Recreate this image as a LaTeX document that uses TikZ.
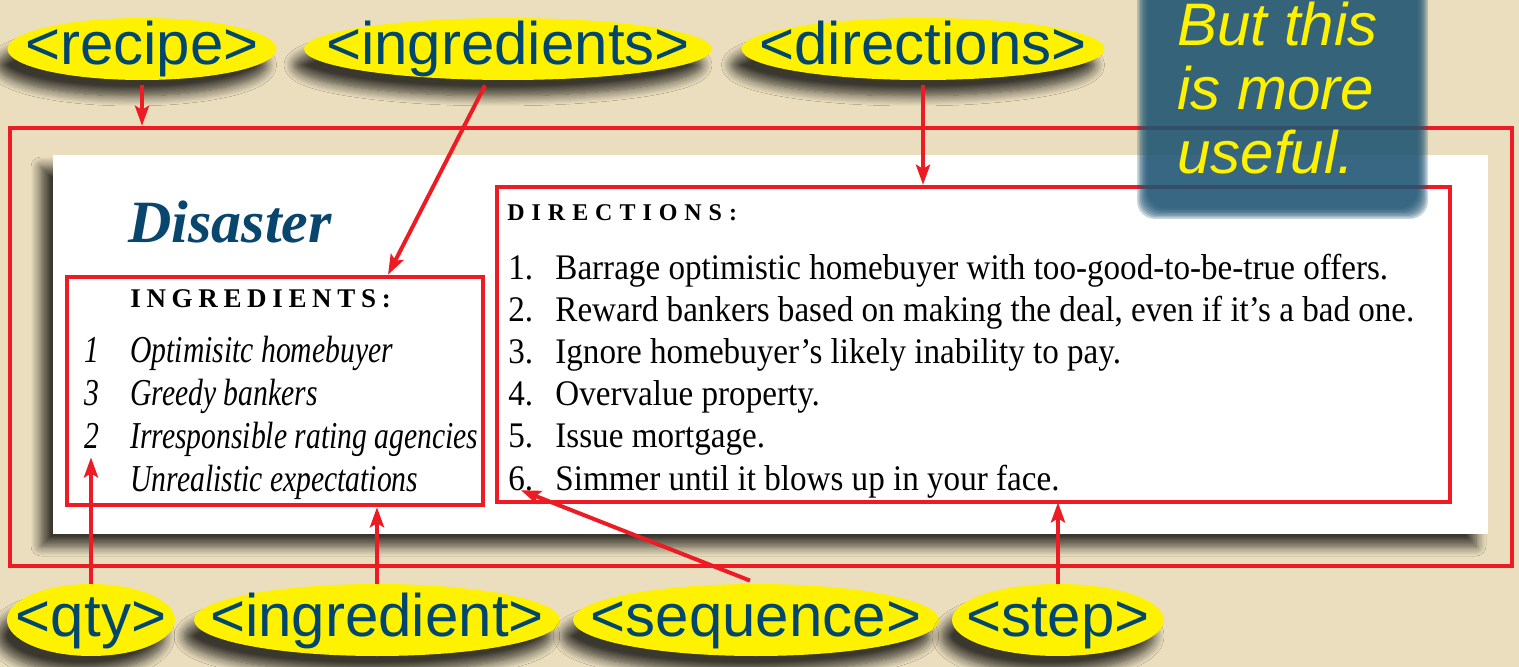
\documentclass[tikz,border=0pt]{standalone}
\usepackage{fontspec}
\setmainfont{Liberation Serif}
\newfontfamily\tagfont{Liberation Sans}
\newfontfamily\cardfont{Liberation Serif}[FakeStretch=0.92]
\newfontfamily\carditfont{Liberation Serif}[FakeStretch=0.78]
\newfontfamily\ingheadfont{Liberation Serif}[LetterSpace=21]
\newfontfamily\dirheadfont{Liberation Serif}[LetterSpace=29]
\usetikzlibrary{positioning,fit,calc,shapes.geometric,arrows.meta,shadows.blur}

\definecolor{bgbeige}{RGB}{234,222,190}
\definecolor{tagyellow}{RGB}{255,242,0}
\definecolor{tagblue}{RGB}{0,70,110}
\definecolor{recipered}{RGB}{237,28,36}
\definecolor{titleblue}{RGB}{8,70,110}
\definecolor{noteblue}{RGB}{32,86,116}
\definecolor{noteyellow}{RGB}{255,242,0}

% tag words take no room, so the ellipse keeps its own size
\newcommand\tagword[1]{\makebox[0pt]{\raisebox{-8pt}[0pt][0pt]{#1}}}

\tikzset{
  tag/.style={ellipse, fill=tagyellow, inner sep=0pt, minimum height=31pt,
    font=\tagfont\fontsize{30}{32}\selectfont, text=tagblue,
    blur shadow={shadow xshift=-5pt, shadow yshift=-8pt, shadow opacity=75,
      shadow blur radius=5pt, shadow blur steps=10}},
  lowtag/.style={tag, minimum height=36pt},
  redbox/.style={draw=recipered, line width=2.2pt, inner sep=0pt},
  arr/.style={draw=recipered, line width=2pt, -{Stealth[length=10pt,width=7pt,inset=2pt]}},
  steptext/.style={font=\cardfont\fontsize{18}{20}\selectfont, anchor=base west, inner sep=0pt},
  itemtext/.style={font=\carditfont\itshape\fontsize{19}{21}\selectfont, anchor=base west, inner sep=0pt},
  headtext/.style={anchor=base west, inner sep=0pt}
}

\begin{document}
\begin{tikzpicture}[x=0.5pt,y=-0.5pt]
    \useasboundingbox (0,0) rectangle (1519,667);
    \fill[bgbeige] (0,0) rectangle (1519,667);

    % the recipe card
    \node[fit={(53,155) (1488,534)}, inner sep=0pt, fill=white,
      blur shadow={shadow xshift=-6pt, shadow yshift=-6pt, shadow opacity=75,
        shadow blur radius=5pt, shadow blur steps=10}] (card) {};
    \node[redbox, fit={(10,128) (1512,566)}] (recipeBox) {};
    \node[redbox, fit={(67,277) (483,505)}] (ingBox) {};
    \node[redbox, fit={(497,187) (1450,502)}] (dirBox) {};

    \node[font=\bfseries\itshape\fontsize{30}{32}\selectfont, text=titleblue,
      anchor=base west, inner sep=0pt] (title) at (128,243) {Disaster};
    \node[headtext, font=\ingheadfont\bfseries\fontsize{13.5}{15}\selectfont] (ingHead) at (130,308) {INGREDIENTS:};
    \foreach \q/\t [count=\i] in {1/Optimisitc homebuyer, 3/Greedy bankers,
        2/Irresponsible rating agencies, /Unrealistic expectations} {
      \node[itemtext] (qty\i) at (84,320+43*\i) {\q};
      \node[itemtext] (ing\i) at (130,320+43*\i) {\t};
    }
    \node[headtext, font=\dirheadfont\bfseries\fontsize{12}{14}\selectfont] (dirHead) at (507,221) {DIRECTIONS:};
    \foreach \t [count=\i] in {Barrage optimistic homebuyer with too-good-to-be-true offers.,
        {Reward bankers based on making the deal, even if it’s a bad one.},
        Ignore homebuyer’s likely inability to pay., Overvalue property.,
        Issue mortgage., Simmer until it blows up in your face.} {
      \node[steptext] (num\i) at (508,237+42.2*\i) {\i.};
      \node[steptext] (step\i) at (555,237+42.2*\i) {\t};
    }

    % element tags
    \node[tag, minimum width=134.5pt] (recipeTag) at (142,49) {\tagword{<recipe>}};
    \node[tag, minimum width=204pt] (ingredientsTag) at (508,49) {\tagword{<ingredients>}};
    \node[tag, minimum width=181.5pt] (directionsTag) at (923,49) {\tagword{<directions>}};
    \node[lowtag, minimum width=84pt] (qtyTag) at (91,620) {\tagword{<qty>}};
    \node[lowtag, minimum width=183pt] (ingredientTag) at (377,620) {\tagword{<ingredient>}};
    \node[lowtag, minimum width=183pt] (sequenceTag) at (756,620) {\tagword{<sequence>}};
    \node[lowtag, minimum width=106pt] (stepTag) at (1058,620) {\tagword{<step>}};

    \draw[arr, shorten <=2.5pt] (recipeTag.south) -- (recipeTag.south |- recipeBox.north);
    \draw[arr] ($(ingredientsTag.south)+(-23,5)$) -- ($(ingBox.north)+(113,0)$);
    \draw[arr, shorten <=2.5pt] (directionsTag.south) -- (directionsTag.south |- dirBox.north);
    \draw[arr, shorten >=4pt] (qtyTag.north) -- (qtyTag.north |- qty3.south);
    \draw[arr] (ingredientTag.north) -- (ingredientTag.north |- ingBox.south);
    \draw[arr] ($(sequenceTag.north)+(-6,-3)$) -- (num6.base);
    \draw[arr, shorten >=2pt] (stepTag.north) -- (stepTag.north |- step6.south);

    % the note, with soft edges
    \foreach \k in {0,...,7}
      \fill[noteblue, opacity=0.24, rounded corners=9pt]
        (1137+1.5*\k,-30) rectangle (1428-1.5*\k,219-1.5*\k);
    \node[font=\tagfont\itshape\fontsize{30}{32}\selectfont, text=noteyellow, align=left,
      anchor=north west, inner sep=0pt] (noteText) at (1177,2) {But this\\is more\\useful.};
\end{tikzpicture}
\end{document}
